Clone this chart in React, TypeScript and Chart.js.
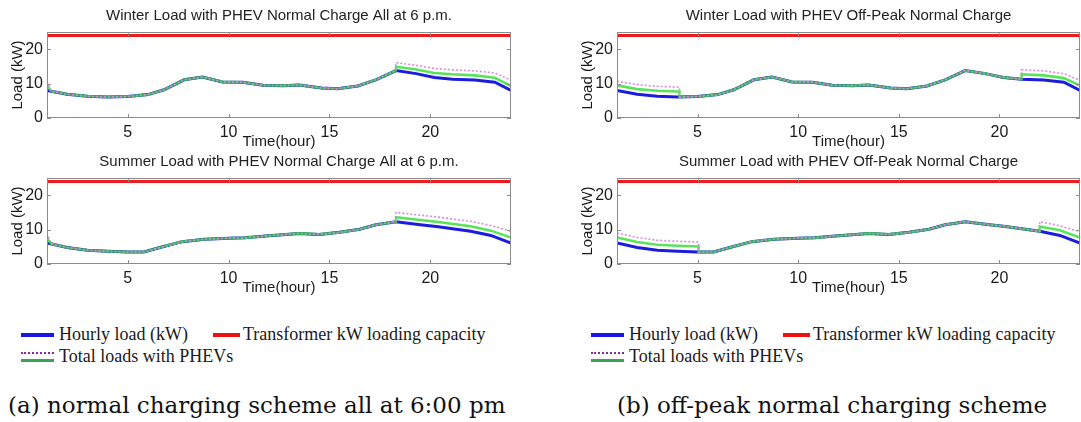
import React, { useEffect, useRef } from "react";
import { Chart, registerables } from "chart.js";

Chart.register(...registerables);

// ---------- data ----------
const capacityHours = [1, 24];
const capacityKW = [24, 24];

const winterHours = [1, 2, 3, 4, 5, 6, 6.8, 7.8, 8.7, 9.7, 10.7, 11.7, 12.7, 13.5, 14.6, 15.4, 16.4, 17.3, 18.3, 19.3, 20.2, 21.1, 22.2, 23.2, 24];
const winterHourlyLoad = [8.0, 6.9, 6.35, 6.1, 6.25, 6.8, 8.2, 11.1, 11.9, 10.5, 10.4, 9.5, 9.4, 9.6, 8.7, 8.5, 9.3, 11.1, 13.8, 12.9, 11.8, 11.3, 11.05, 10.4, 8.0];

const summerHours = [1, 2, 3, 4, 5, 5.8, 6.6, 7.7, 8.8, 10, 10.8, 12, 13.5, 14.5, 15.5, 16.5, 17.3, 18.3, 19.5, 20.3, 22, 23, 24];
const summerHourlyLoad = [6.1, 4.8, 4.0, 3.7, 3.5, 3.5, 4.8, 6.5, 7.2, 7.5, 7.6, 8.2, 8.9, 8.6, 9.2, 10.1, 11.4, 12.3, 11.4, 10.9, 9.5, 8.3, 6.1];

// (a) normal charge all at 6 p.m. — winter
const winterNormalHours = [1, 1.2, 2, 3, 4, 5, 6, 6.8, 7.8, 8.7, 9.7, 10.7, 11.7, 12.7, 13.5, 14.6, 15.4, 16.4, 17.3, 18.3, 18.3, 19.3, 20.2, 21.1, 22.2, 23.2, 24];
const winterNormalTotalA = [9.6, 7.8, 6.9, 6.35, 6.1, 6.25, 6.8, 8.2, 11.1, 11.9, 10.5, 10.4, 9.5, 9.4, 9.6, 8.7, 8.5, 9.3, 11.1, 13.8, 14.9, 14.1, 13.1, 12.7, 12.4, 11.7, 9.3];
const winterNormalTotalB = [10.7, 7.8, 6.9, 6.35, 6.1, 6.25, 6.8, 8.2, 11.1, 11.9, 10.5, 10.4, 9.5, 9.4, 9.6, 8.7, 8.5, 9.3, 11.1, 13.8, 16.1, 15.3, 14.4, 14.0, 13.7, 13.1, 11.0];

// (a) normal charge all at 6 p.m. — summer
const summerNormalHours = [1, 1.2, 2, 3, 4, 5, 5.8, 6.6, 7.7, 8.8, 10, 10.8, 12, 13.5, 14.5, 15.5, 16.5, 17.3, 18.3, 18.3, 19.5, 20.3, 22, 23, 24];
const summerNormalTotalA = [7.6, 5.85, 4.8, 4.0, 3.7, 3.5, 3.5, 4.8, 6.5, 7.2, 7.5, 7.6, 8.2, 8.9, 8.6, 9.2, 10.1, 11.4, 12.3, 13.6, 12.8, 12.3, 11.0, 9.7, 7.7];
const summerNormalTotalB = [9.1, 5.85, 4.8, 4.0, 3.7, 3.5, 3.5, 4.8, 6.5, 7.2, 7.5, 7.6, 8.2, 8.9, 8.6, 9.2, 10.1, 11.4, 12.3, 15.0, 14.2, 13.7, 12.4, 11.2, 9.5];

// (b) off-peak normal charge — winter
const winterOffPeakHours = [1, 2, 3, 4, 4.1, 4.1, 5, 6, 6.8, 7.8, 8.7, 9.7, 10.7, 11.7, 12.7, 13.5, 14.6, 15.4, 16.4, 17.3, 18.3, 19.3, 20.2, 21.1, 21.1, 22.2, 23.2, 24];
const winterOffPeakTotalA = [9.5, 8.4, 7.9, 7.7, 7.7, 6.1, 6.25, 6.8, 8.2, 11.1, 11.9, 10.5, 10.4, 9.5, 9.4, 9.6, 8.7, 8.5, 9.3, 11.1, 13.8, 12.9, 11.8, 11.3, 12.7, 12.4, 11.6, 9.4];
const winterOffPeakTotalB = [10.7, 9.7, 9.2, 9.0, 8.9, 6.1, 6.25, 6.8, 8.2, 11.1, 11.9, 10.5, 10.4, 9.5, 9.4, 9.6, 8.7, 8.5, 9.3, 11.1, 13.8, 12.9, 11.8, 11.3, 14.0, 13.7, 12.9, 10.9];

// (b) off-peak normal charge — summer
const summerOffPeakHours = [1, 2, 3, 4, 5.05, 5.05, 5.8, 6.6, 7.7, 8.8, 10, 10.8, 12, 13.5, 14.5, 15.5, 16.5, 17.3, 18.3, 19.5, 20.3, 22, 22, 23, 24];
const summerOffPeakTotalA = [7.7, 6.4, 5.6, 5.3, 5.1, 3.5, 3.5, 4.8, 6.5, 7.2, 7.5, 7.6, 8.2, 8.9, 8.6, 9.2, 10.1, 11.4, 12.3, 11.4, 10.9, 9.5, 10.9, 9.8, 7.7];
const summerOffPeakTotalB = [9.0, 7.7, 6.9, 6.6, 6.4, 3.5, 3.5, 4.8, 6.5, 7.2, 7.5, 7.6, 8.2, 8.9, 8.6, 9.2, 10.1, 11.4, 12.3, 11.4, 10.9, 9.5, 12.3, 11.1, 9.4];

const xTickStep = 5;
const yTickStep = 10;
const xAxisTitle = "Time(hour)";
const yAxisTitle = "Load (kW)";

const legendLabels = ["Hourly load (kW)", "Transformer kW loading capacity", "Total loads with PHEVs"];
const captions = ["(a) normal charging scheme all at 6:00 pm", "(b) off-peak normal charging scheme"];

// ---------- styling ----------
const BLUE = "#1c1ce0";
const RED = "#ee1c1c";
const GREEN = "rgba(45, 222, 45, 0.8)";
const PURPLE = "#d88ae2";
const SANS = "'Liberation Sans', Arial, sans-serif";

const pts = (xs: number[], ys: number[]) => xs.map((x, i) => ({ x, y: ys[i] }));

const framePlugin = {
  id: "matlabFrame",
  afterDraw(chart: any) {
    const { ctx, chartArea: a, scales } = chart;
    const xs = scales.x;
    const ys = scales.y;
    ctx.save();
    ctx.strokeStyle = "#8c8c8c";
    ctx.lineWidth = 1;
    ctx.strokeRect(a.left + 0.5, a.top + 0.5, a.right - a.left - 1, a.bottom - a.top - 1);
    const L = 4;
    ctx.beginPath();
    xs.ticks.forEach((t: any) => {
      const px = Math.round(xs.getPixelForValue(t.value)) + 0.5;
      ctx.moveTo(px, a.bottom);
      ctx.lineTo(px, a.bottom - L);
      ctx.moveTo(px, a.top);
      ctx.lineTo(px, a.top + L);
    });
    ys.ticks.forEach((t: any) => {
      const py = Math.round(ys.getPixelForValue(t.value)) + 0.5;
      ctx.moveTo(a.left, py);
      ctx.lineTo(a.left + L, py);
      ctx.moveTo(a.right, py);
      ctx.lineTo(a.right - L, py);
    });
    ctx.stroke();
    ctx.restore();
  },
};

type PanelProps = {
  left: number;
  top: number;
  width: number;
  padL: number;
  padR: number;
  title: string;
  baseX: number[];
  baseY: number[];
  totX: number[];
  totA: number[];
  totB: number[];
};

function Panel(p: PanelProps) {
  const ref = useRef<HTMLCanvasElement>(null);
  useEffect(() => {
    const tickFont = { family: SANS, size: 16 };
    const chart = new Chart(ref.current as HTMLCanvasElement, {
      type: "line",
      data: {
        datasets: [
          { data: pts(p.totX, p.totB), borderColor: PURPLE, borderWidth: 1.6, borderDash: [2, 2], pointRadius: 0, tension: 0, fill: false },
          { data: pts(p.totX, p.totA), borderColor: GREEN, borderWidth: 2.6, pointRadius: 0, tension: 0, fill: false },
          { data: pts(p.baseX, p.baseY), borderColor: BLUE, borderWidth: 3, pointRadius: 0, tension: 0, fill: false },
          { data: pts(capacityHours, capacityKW), borderColor: RED, borderWidth: 3, pointRadius: 0, tension: 0, fill: false },
        ],
      },
      options: {
        animation: false,
        responsive: false,
        maintainAspectRatio: false,
        devicePixelRatio: 1,
        layout: { padding: { left: p.padL, right: p.padR, top: 0, bottom: 0 } },
        plugins: {
          legend: { display: false },
          tooltip: { enabled: false },
          title: {
            display: true,
            text: p.title,
            fullSize: false,
            color: "#222",
            font: { family: SANS, size: 15, weight: "normal" },
            padding: { top: 7, bottom: 7 },
          },
        },
        scales: {
          x: {
            type: "linear",
            min: 1,
            max: 24,
            afterFit: (s: any) => {
              s.height = 34;
            },
            grid: { display: false, drawTicks: false },
            border: { display: false },
            ticks: { stepSize: xTickStep, includeBounds: false, padding: 5, font: tickFont, color: "#1a1a1a", maxRotation: 0 },
            title: { display: true, text: xAxisTitle, color: "#1a1a1a", font: { family: SANS, size: 15 }, padding: { top: 0, bottom: 1 } },
          },
          y: {
            type: "linear",
            min: 0,
            max: 25,
            afterFit: (s: any) => {
              s.width = 47;
            },
            grid: { display: false, drawTicks: false },
            border: { display: false },
            ticks: { stepSize: yTickStep, includeBounds: false, padding: 4, font: tickFont, color: "#1a1a1a" },
            title: { display: true, text: yAxisTitle, color: "#1a1a1a", font: { family: SANS, size: 15 }, padding: { top: 9, bottom: 0 } },
          },
        },
      } as any,
      plugins: [framePlugin],
    });
    return () => chart.destroy();
  }, []);
  return (
    <canvas
      ref={ref}
      width={p.width}
      height={152}
      style={{ position: "absolute", left: p.left, top: p.top, width: p.width, height: 152 }}
    />
  );
}

const serifLegend = "'Liberation Serif', 'Times New Roman', serif";
const serifCaption = "'DejaVu Serif', serif";

function Legend({ dx }: { dx: number }) {
  const txt: React.CSSProperties = {
    position: "absolute",
    fontFamily: serifLegend,
    fontSize: 18,
    lineHeight: "20px",
    color: "#1a1a1a",
    whiteSpace: "nowrap",
  };
  return (
    <>
      <div style={{ position: "absolute", left: 21 + dx, top: 333, width: 33, height: 4, background: "#1818e6" }} />
      <div style={{ ...txt, left: 59 + dx, top: 324 }}>{legendLabels[0]}</div>
      <div style={{ position: "absolute", left: 213 + dx, top: 333, width: 27, height: 4, background: "#ee1111" }} />
      <div style={{ ...txt, left: 243 + dx, top: 324 }}>{legendLabels[1]}</div>
      <div style={{ position: "absolute", left: 21 + dx, top: 352, width: 33, height: 0, borderTop: "2px dotted #8a2a9a" }} />
      <div style={{ position: "absolute", left: 21 + dx, top: 359, width: 33, height: 3, background: "#3aa05a" }} />
      <div style={{ ...txt, left: 59 + dx, top: 346 }}>{legendLabels[2]}</div>
    </>
  );
}

export default function App() {
  const cap: React.CSSProperties = {
    position: "absolute",
    top: 391,
    fontFamily: serifCaption,
    fontSize: 23,
    lineHeight: "28px",
    color: "#111",
    whiteSpace: "nowrap",
  };
  return (
    <div style={{ position: "absolute", left: 0, top: 0, width: 1081, height: 422, background: "#fff", overflow: "hidden" }}>
      <Panel left={0} top={0} width={540} padL={0} padR={29} title="Winter Load with PHEV Normal Charge All at 6 p.m."
        baseX={winterHours} baseY={winterHourlyLoad} totX={winterNormalHours} totA={winterNormalTotalA} totB={winterNormalTotalB} />
      <Panel left={0} top={146} width={540} padL={0} padR={29} title="Summer Load with PHEV Normal Charge All at 6 p.m."
        baseX={summerHours} baseY={summerHourlyLoad} totX={summerNormalHours} totA={summerNormalTotalA} totB={summerNormalTotalB} />
      <Panel left={540} top={0} width={541} padL={30} padR={1} title="Winter Load with PHEV Off-Peak Normal Charge"
        baseX={winterHours} baseY={winterHourlyLoad} totX={winterOffPeakHours} totA={winterOffPeakTotalA} totB={winterOffPeakTotalB} />
      <Panel left={540} top={146} width={541} padL={30} padR={1} title="Summer Load with PHEV Off-Peak Normal Charge"
        baseX={summerHours} baseY={summerHourlyLoad} totX={summerOffPeakHours} totA={summerOffPeakTotalA} totB={summerOffPeakTotalB} />
      <Legend dx={0} />
      <Legend dx={570} />
      <div style={{ ...cap, left: 8 }}>{captions[0]}</div>
      <div style={{ ...cap, left: 617 }}>{captions[1]}</div>
    </div>
  );
}
